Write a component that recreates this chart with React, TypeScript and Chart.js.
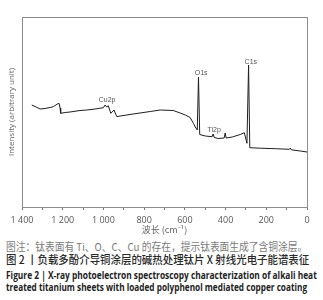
import React, { useEffect, useLayoutEffect, useRef } from "react";
import { Chart, registerables } from "chart.js";

Chart.register(...registerables);

// Binding energy (x, as read against the axis labels) and intensity (arbitrary)
const bindingEnergy = [
  1352, 1331, 1311, 1287, 1262, 1246, 1226, 1218, 1213, 1210, 1188, 1164, 1115, 1082, 1041,
  1000, 992, 984, 976, 964, 957, 948, 940, 934, 918, 854, 770, 721, 657, 623, 598, 574, 558,
  549, 539, 533, 527, 500, 466, 461, 456, 436, 407, 402, 397, 367, 328, 308, 295, 287, 281,
  230, 156, 87, 82, 77, 33, 0,
];
const intensity = [
  102, 100, 98, 98.5, 99.5, 100.3, 103, 103.7, 99, 93.7, 94.5, 95, 96.5, 97, 98,
  99.3, 102, 100, 101.3, 93.7, 95, 97, 93, 90.3, 91, 93, 95.5, 97, 96.5, 94, 92, 89.5, 83.7,
  80, 77, 130, 72.5, 71, 70.3, 73, 69.5, 68.5, 69, 74, 69, 70, 72.5, 74.3, 63.7, 142, 59.3,
  58.8, 58.3, 57.7, 59, 57.2, 56, 55,
];

const xMin = 0;
const xMax = 1400;
const xStep = 100;
const xLabelStep = 200;

const peakNames = ["Cu2p", "O1s", "Ti2p", "C1s"];
const peakX = [982, 520, 456, 276];
const peakY = [107, 134, 77, 145];

const xTitle = "波长 (cm⁻¹)";
const yTitle = "Intensity (arbitrary unit)";

const captionNote = "图注：钛表面有 Ti、O、C、Cu 的存在，提示钛表面生成了含铜涂层。";
const captionZh = "图 2 丨负载多酚介导铜涂层的碱热处理钛片 X 射线光电子能谱表征";
const captionEn1 = "Figure 2  |  X-ray photoelectron spectroscopy characterization of alkali heat";
const captionEn2 = "treated titanium sheets with loaded polyphenol mediated copper coating";

function fmt(v: number): string {
  if (v >= 1000) return `${Math.floor(v / 1000)} ${String(v % 1000).padStart(3, "0")}`;
  return String(v);
}

const overlay = {
  id: "overlay",
  afterDatasetsDraw(chart: any) {
    const { ctx, chartArea: a, scales } = chart;
    ctx.save();
    ctx.strokeStyle = "#8c8c8c";
    ctx.lineWidth = 1;
    const l = Math.round(a.left) + 0.5;
    const t = Math.round(a.top) + 0.5;
    ctx.strokeRect(l, t, Math.round(a.right) - Math.round(a.left), Math.round(a.bottom) - Math.round(a.top));
    ctx.font = "7px 'Liberation Sans', Arial, sans-serif";
    ctx.fillStyle = "#555";
    ctx.textAlign = "center";
    ctx.textBaseline = "middle";
    peakNames.forEach((n, i) => {
      ctx.fillText(n, scales.x.getPixelForValue(peakX[i]), scales.y.getPixelForValue(peakY[i]));
    });
    ctx.restore();
  },
};

function FitLine(props: { text: string; center: number; left: number; width: number; style: React.CSSProperties }) {
  const ref = useRef<HTMLSpanElement>(null);
  useLayoutEffect(() => {
    const el = ref.current;
    if (!el) return;
    el.style.transform = "none";
    const w = el.offsetWidth;
    if (w > 0) el.style.transform = `scaleX(${props.width / w})`;
  });
  const lh = 14;
  return (
    <span
      ref={ref}
      style={{
        position: "absolute",
        left: props.left,
        top: props.center - lh / 2,
        lineHeight: `${lh}px`,
        whiteSpace: "nowrap",
        transformOrigin: "left center",
        display: "inline-block",
        ...props.style,
      }}
    >
      {props.text}
    </span>
  );
}

export default function App() {
  const canvasRef = useRef<HTMLCanvasElement>(null);

  useEffect(() => {
    const canvas = canvasRef.current;
    if (!canvas) return;
    const points = bindingEnergy.map((x, i) => ({ x, y: intensity[i] }));
    const chart = new Chart(canvas, {
      type: "line",
      data: {
        datasets: [
          {
            data: points,
            borderColor: "#1e1e1e",
            borderWidth: 1,
            pointRadius: 0,
            tension: 0,
            fill: false,
          },
        ],
      },
      options: {
        animation: false,
        responsive: false,
        devicePixelRatio: 1,
        layout: { padding: { top: 17, right: 16, left: 0, bottom: 0 } },
        plugins: { legend: { display: false }, tooltip: { enabled: false } },
        scales: {
          x: {
            type: "linear",
            reverse: true,
            min: xMin,
            max: xMax,
            border: { display: false },
            grid: { drawOnChartArea: false, drawTicks: true, tickLength: 3, color: "#777" },
            afterBuildTicks: (s: any) => {
              const arr = [];
              for (let v = xMin; v <= xMax; v += xStep) arr.push({ value: v });
              s.ticks = arr;
            },
            ticks: {
              autoSkip: false,
              maxRotation: 0,
              padding: 5,
              color: "#555",
              font: { size: 9, family: "'Open Sans', 'Liberation Sans', sans-serif" },
              callback: (v: any) => (Number(v) % xLabelStep === 0 ? fmt(Number(v)) : ""),
            },
            title: {
              display: true,
              text: xTitle,
              color: "#666",
              padding: { top: 0, bottom: 1 },
              font: { size: 9, family: "'Noto Sans CJK SC', 'Open Sans', sans-serif" },
            },
            afterFit: (s: any) => {
              s.height = 29;
            },
          },
          y: {
            min: 0,
            max: 190,
            border: { display: false },
            grid: { display: false, drawTicks: false },
            ticks: { display: false },
            title: {
              display: true,
              text: yTitle,
              color: "#666",
              padding: { top: 7, bottom: 0 },
              font: { size: 8, family: "'Open Sans', 'Liberation Sans', sans-serif" },
            },
            afterFit: (s: any) => {
              s.width = 22;
            },
          },
        },
      },
      plugins: [overlay],
    });
    return () => chart.destroy();
  }, []);

  return (
    <div
      style={{
        position: "absolute",
        left: 0,
        top: 0,
        width: 323,
        height: 300,
        background: "#fff",
        overflow: "hidden",
      }}
    >
      <canvas ref={canvasRef} width={323} height={236} style={{ display: "block", width: 323, height: 236 }} />
      <FitLine
        text={captionNote}
        center={246}
        left={6}
        width={301}
        style={{ fontSize: 11, color: "#7a7a7a", fontFamily: "'Noto Sans CJK SC', sans-serif" }}
      />
      <FitLine
        text={captionZh}
        center={258.5}
        left={6}
        width={303}
        style={{ fontSize: 11.5, color: "#2a2a2a", fontWeight: 500, fontFamily: "'Noto Sans CJK SC', sans-serif" }}
      />
      <FitLine
        text={captionEn1}
        center={274.5}
        left={6}
        width={311}
        style={{ fontSize: 10, color: "#222", fontWeight: 700, fontFamily: "'Open Sans', 'Liberation Sans', sans-serif" }}
      />
      <FitLine
        text={captionEn2}
        center={286.5}
        left={6}
        width={301}
        style={{ fontSize: 10, color: "#222", fontWeight: 700, fontFamily: "'Open Sans', 'Liberation Sans', sans-serif" }}
      />
    </div>
  );
}
